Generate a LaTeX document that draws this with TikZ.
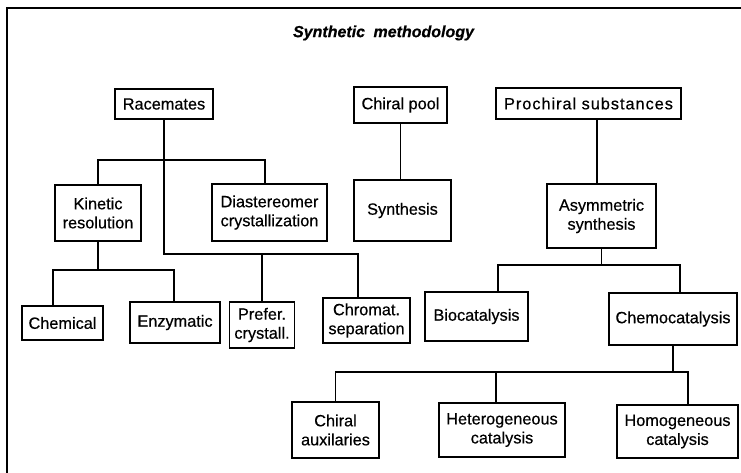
\documentclass[tikz,border=0pt]{standalone}
\usepackage{fontspec}
\setmainfont{Liberation Sans}[FakeBold=0.6]
\begin{document}
\begin{tikzpicture}[x=1pt,y=-1pt,
  box/.style={draw, line width=1.3pt, inner sep=0pt, align=center, font=\fontsize{16.3}{19}\selectfont\addfontfeature{FakeBold=0.5}},
  conn/.style={line width=1.2pt}]
\useasboundingbox (0,0) rectangle (741,473);
\draw[line width=1.3pt] (741,8) -- (7,8) -- (7,473);
\node[font=\fontsize{16}{19}\selectfont\bfseries\itshape] (title) at (383.5,33) {Synthetic\hspace{0.25em} methodology};
% left tree
\node[box, minimum width=98pt, minimum height=30pt] (rac) at (164,104) {Racemates};
\node[box, minimum width=86pt, minimum height=56pt] (kin) at (98,213) {Kinetic\\resolution};
\node[box, minimum width=115pt, minimum height=57pt] (dia) at (269.5,212.5) {Diastereomer\\crystallization};
\node[box, minimum width=81pt, minimum height=34pt] (chem) at (62.5,323) {Chemical};
\node[box, minimum width=90pt, minimum height=41pt] (enz) at (175,322.5) {Enzymatic};
\node[box, minimum width=65pt, minimum height=46pt] (pref) at (262,325) {Prefer.\\crystall.};
\node[box, minimum width=87pt, minimum height=45pt] (chrom) at (366.5,320.5) {Chromat.\\separation};
% middle
\node[box, minimum width=93pt, minimum height=36pt] (pool) at (400.5,105) {Chiral pool};
\node[box, minimum width=97pt, minimum height=61pt] (syn) at (402.5,210.5) {Synthesis};
% right tree
\node[box, minimum width=185pt, minimum height=31pt] (pro) at (588.5,103.5) {\addfontfeature{LetterSpace=6}Prochiral substances};
\node[box, minimum width=109pt, minimum height=64pt] (asym) at (601.5,216) {Asymmetric\\synthesis};
\node[box, minimum width=103pt, minimum height=49pt] (bio) at (476.5,316.5) {Biocatalysis};
\node[box, minimum width=128pt, minimum height=52pt] (chemo) at (673,319) {Chemocatalysis};
\node[box, minimum width=87pt, minimum height=56pt] (aux) at (335.5,430) {Chiral\\auxilaries};
\node[box, minimum width=126pt, minimum height=54pt] (het) at (502,430) {Heterogeneous\\catalysis};
\node[box, minimum width=121pt, minimum height=53pt] (hom) at (677.5,431.5) {Homogeneous\\catalysis};
% bus coordinates
\coordinate (rk) at (0,160);
\coordinate (rb) at (0,254);
\coordinate (kb) at (0,270);
\coordinate (ab) at (0,265);
\coordinate (cb) at (0,372);
% connectors
\draw[conn] (rac.south) |- ([xshift=-8.5pt]chrom.north |- rb) -- ([xshift=-8.5pt]chrom.north);
\draw[conn] (kin.north) |- ([xshift=-4.5pt]dia.north |- rk) -- ([xshift=-4.5pt]dia.north);
\draw[conn] (pref.north) -- (pref.north |- rb);
\draw[conn] (kin.south) -- (kin.south |- kb);
\draw[conn] ([xshift=-9.5pt]chem.north) |- ([xshift=-1pt]enz.north |- kb) -- ([xshift=-1pt]enz.north);
\draw[conn] (pool.south) -- (pool.south |- syn.north);
\draw[conn] ([xshift=8.5pt]pro.south) -- ([xshift=8.5pt]pro.south |- asym.north);
\draw[conn] (asym.south) -- (asym.south |- ab);
\draw[conn] ([xshift=21.5pt]bio.north) |- ([xshift=7pt]chemo.north |- ab) -- ([xshift=7pt]chemo.north);
\draw[conn] (chemo.south) -- (chemo.south |- cb);
\draw[conn] (aux.north) |- ([xshift=10.5pt]hom.north |- cb) -- ([xshift=10.5pt]hom.north);
\draw[conn] ([xshift=-6pt]het.north) -- ([xshift=-6pt]het.north |- cb);
\end{tikzpicture}
\end{document}
